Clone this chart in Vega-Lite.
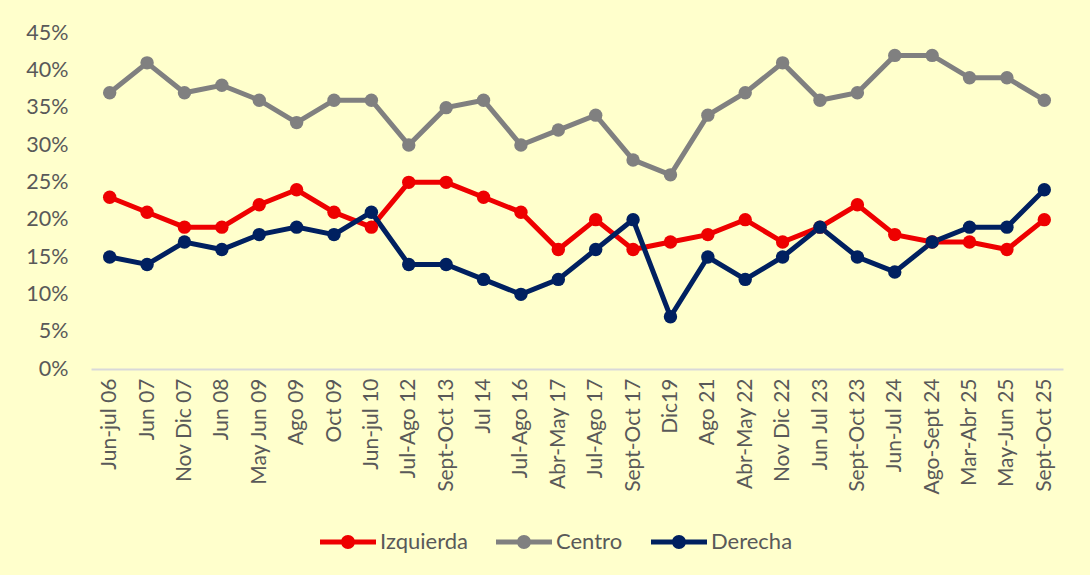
{
  "$schema": "https://vega.github.io/schema/vega-lite/v6.json",
  "width": 972,
  "height": 336,
  "autosize": {"type": "none"},
  "padding": {"left": 91, "top": 33, "right": 27, "bottom": 206},
  "background": "#FFFFCC",
  "config": {
    "view": {"stroke": null},
    "font": "Lato"
  },
  "data": {
    "values": [
      {"periodo": "Jun-jul 06", "serie": "Centro", "valor": 0.37},
      {"periodo": "Jun 07", "serie": "Centro", "valor": 0.41},
      {"periodo": "Nov Dic 07", "serie": "Centro", "valor": 0.37},
      {"periodo": "Jun 08", "serie": "Centro", "valor": 0.38},
      {"periodo": "May Jun 09", "serie": "Centro", "valor": 0.36},
      {"periodo": "Ago 09", "serie": "Centro", "valor": 0.33},
      {"periodo": "Oct 09", "serie": "Centro", "valor": 0.36},
      {"periodo": "Jun-jul 10", "serie": "Centro", "valor": 0.36},
      {"periodo": "Jul-Ago 12", "serie": "Centro", "valor": 0.30},
      {"periodo": "Sept-Oct 13", "serie": "Centro", "valor": 0.35},
      {"periodo": "Jul 14", "serie": "Centro", "valor": 0.36},
      {"periodo": "Jul-Ago 16", "serie": "Centro", "valor": 0.30},
      {"periodo": "Abr-May 17", "serie": "Centro", "valor": 0.32},
      {"periodo": "Jul-Ago 17", "serie": "Centro", "valor": 0.34},
      {"periodo": "Sept-Oct 17", "serie": "Centro", "valor": 0.28},
      {"periodo": "Dic19", "serie": "Centro", "valor": 0.26},
      {"periodo": "Ago 21", "serie": "Centro", "valor": 0.34},
      {"periodo": "Abr-May 22", "serie": "Centro", "valor": 0.37},
      {"periodo": "Nov Dic 22", "serie": "Centro", "valor": 0.41},
      {"periodo": "Jun Jul 23", "serie": "Centro", "valor": 0.36},
      {"periodo": "Sept-Oct 23", "serie": "Centro", "valor": 0.37},
      {"periodo": "Jun-Jul 24", "serie": "Centro", "valor": 0.42},
      {"periodo": "Ago-Sept 24", "serie": "Centro", "valor": 0.42},
      {"periodo": "Mar-Abr 25", "serie": "Centro", "valor": 0.39},
      {"periodo": "May-Jun 25", "serie": "Centro", "valor": 0.39},
      {"periodo": "Sept-Oct 25", "serie": "Centro", "valor": 0.36},
      {"periodo": "Jun-jul 06", "serie": "Izquierda", "valor": 0.23},
      {"periodo": "Jun 07", "serie": "Izquierda", "valor": 0.21},
      {"periodo": "Nov Dic 07", "serie": "Izquierda", "valor": 0.19},
      {"periodo": "Jun 08", "serie": "Izquierda", "valor": 0.19},
      {"periodo": "May Jun 09", "serie": "Izquierda", "valor": 0.22},
      {"periodo": "Ago 09", "serie": "Izquierda", "valor": 0.24},
      {"periodo": "Oct 09", "serie": "Izquierda", "valor": 0.21},
      {"periodo": "Jun-jul 10", "serie": "Izquierda", "valor": 0.19},
      {"periodo": "Jul-Ago 12", "serie": "Izquierda", "valor": 0.25},
      {"periodo": "Sept-Oct 13", "serie": "Izquierda", "valor": 0.25},
      {"periodo": "Jul 14", "serie": "Izquierda", "valor": 0.23},
      {"periodo": "Jul-Ago 16", "serie": "Izquierda", "valor": 0.21},
      {"periodo": "Abr-May 17", "serie": "Izquierda", "valor": 0.16},
      {"periodo": "Jul-Ago 17", "serie": "Izquierda", "valor": 0.20},
      {"periodo": "Sept-Oct 17", "serie": "Izquierda", "valor": 0.16},
      {"periodo": "Dic19", "serie": "Izquierda", "valor": 0.17},
      {"periodo": "Ago 21", "serie": "Izquierda", "valor": 0.18},
      {"periodo": "Abr-May 22", "serie": "Izquierda", "valor": 0.20},
      {"periodo": "Nov Dic 22", "serie": "Izquierda", "valor": 0.17},
      {"periodo": "Jun Jul 23", "serie": "Izquierda", "valor": 0.19},
      {"periodo": "Sept-Oct 23", "serie": "Izquierda", "valor": 0.22},
      {"periodo": "Jun-Jul 24", "serie": "Izquierda", "valor": 0.18},
      {"periodo": "Ago-Sept 24", "serie": "Izquierda", "valor": 0.17},
      {"periodo": "Mar-Abr 25", "serie": "Izquierda", "valor": 0.17},
      {"periodo": "May-Jun 25", "serie": "Izquierda", "valor": 0.16},
      {"periodo": "Sept-Oct 25", "serie": "Izquierda", "valor": 0.20},
      {"periodo": "Jun-jul 06", "serie": "Derecha", "valor": 0.15},
      {"periodo": "Jun 07", "serie": "Derecha", "valor": 0.14},
      {"periodo": "Nov Dic 07", "serie": "Derecha", "valor": 0.17},
      {"periodo": "Jun 08", "serie": "Derecha", "valor": 0.16},
      {"periodo": "May Jun 09", "serie": "Derecha", "valor": 0.18},
      {"periodo": "Ago 09", "serie": "Derecha", "valor": 0.19},
      {"periodo": "Oct 09", "serie": "Derecha", "valor": 0.18},
      {"periodo": "Jun-jul 10", "serie": "Derecha", "valor": 0.21},
      {"periodo": "Jul-Ago 12", "serie": "Derecha", "valor": 0.14},
      {"periodo": "Sept-Oct 13", "serie": "Derecha", "valor": 0.14},
      {"periodo": "Jul 14", "serie": "Derecha", "valor": 0.12},
      {"periodo": "Jul-Ago 16", "serie": "Derecha", "valor": 0.10},
      {"periodo": "Abr-May 17", "serie": "Derecha", "valor": 0.12},
      {"periodo": "Jul-Ago 17", "serie": "Derecha", "valor": 0.16},
      {"periodo": "Sept-Oct 17", "serie": "Derecha", "valor": 0.20},
      {"periodo": "Dic19", "serie": "Derecha", "valor": 0.07},
      {"periodo": "Ago 21", "serie": "Derecha", "valor": 0.15},
      {"periodo": "Abr-May 22", "serie": "Derecha", "valor": 0.12},
      {"periodo": "Nov Dic 22", "serie": "Derecha", "valor": 0.15},
      {"periodo": "Jun Jul 23", "serie": "Derecha", "valor": 0.19},
      {"periodo": "Sept-Oct 23", "serie": "Derecha", "valor": 0.15},
      {"periodo": "Jun-Jul 24", "serie": "Derecha", "valor": 0.13},
      {"periodo": "Ago-Sept 24", "serie": "Derecha", "valor": 0.17},
      {"periodo": "Mar-Abr 25", "serie": "Derecha", "valor": 0.19},
      {"periodo": "May-Jun 25", "serie": "Derecha", "valor": 0.19},
      {"periodo": "Sept-Oct 25", "serie": "Derecha", "valor": 0.24}
    ]
  },
  "mark": {
    "type": "line",
    "strokeWidth": 5,
    "point": {"filled": true, "size": 180, "opacity": 1}
  },
  "encoding": {
    "x": {
      "field": "periodo",
      "type": "ordinal",
      "sort": null,
      "title": null,
      "axis": {
        "labelAngle": -90,
        "labelFontSize": 21,
        "labelColor": "#595959",
        "labelPadding": 9,
        "labelOverlap": false,
        "ticks": false,
        "domainColor": "#D9D9D9",
        "domainWidth": 2,
        "grid": false
      }
    },
    "y": {
      "field": "valor",
      "type": "quantitative",
      "title": null,
      "scale": {"domain": [0, 0.45], "nice": false},
      "axis": {
        "values": [0, 0.05, 0.1, 0.15, 0.2, 0.25, 0.3, 0.35, 0.4, 0.45],
        "format": ".0%",
        "labelFontSize": 21.5,
        "labelColor": "#595959",
        "labelPadding": 23,
        "ticks": false,
        "domain": false,
        "grid": false
      }
    },
    "color": {
      "field": "serie",
      "type": "nominal",
      "scale": {
        "domain": ["Izquierda", "Centro", "Derecha"],
        "range": ["#EE0000", "#808080", "#002060"]
      },
      "legend": {
        "title": null,
        "orient": "none",
        "direction": "horizontal",
        "legendX": 229,
        "legendY": 481,
        "symbolType": "M-1,-0.09 L1,-0.09 L1,0.09 L-1,0.09 Z M0.25,0 A0.25,0.25 0 1,1 -0.25,0 A0.25,0.25 0 1,1 0.25,0 Z",
        "symbolSize": 3136,
        "symbolStrokeWidth": 0,
        "symbolOpacity": 1,
        "labelFontSize": 22,
        "labelColor": "#595959",
        "labelOffset": 4,
        "columnPadding": 28,
        "encode": {
          "symbols": {
            "update": {
              "fill": {"scale": "color", "field": "value"},
              "strokeWidth": {"value": 0}
            }
          }
        }
      }
    }
  }
}
